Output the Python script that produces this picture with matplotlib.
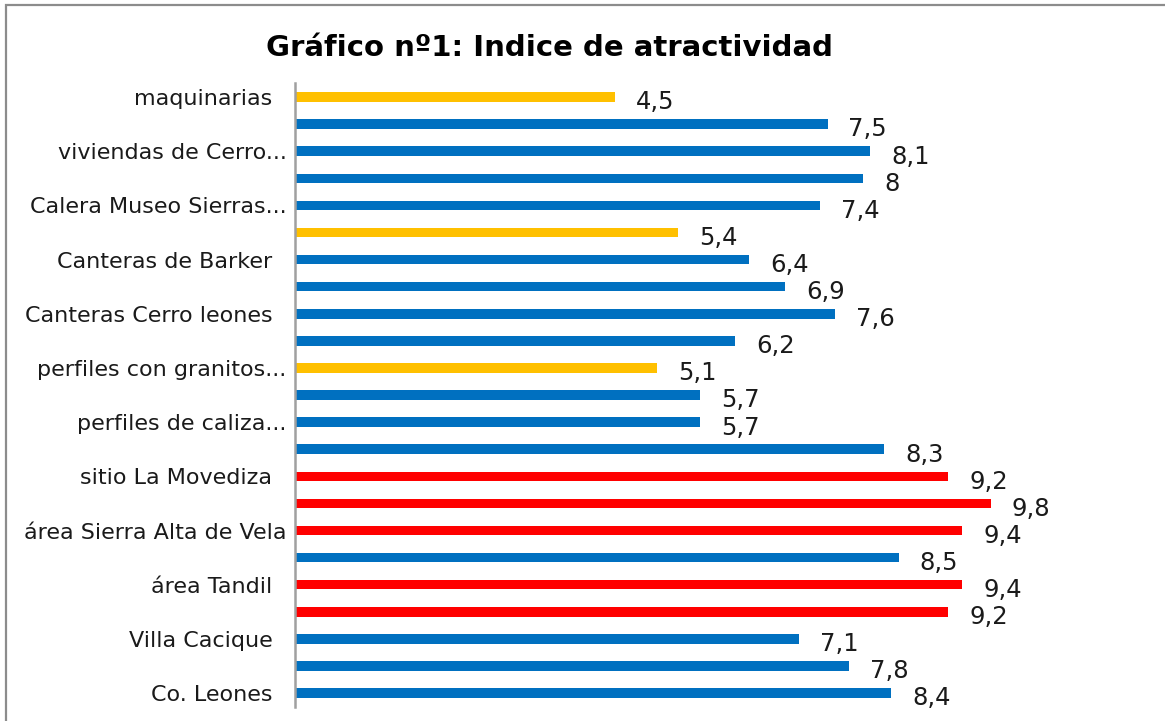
import matplotlib
matplotlib.use("Agg")
import matplotlib.pyplot as plt
from matplotlib.patches import Rectangle

# Data, top to bottom as shown in the chart
labels = ["maquinarias  ", "", "viviendas de Cerro...", "", "Calera Museo Sierras...", "",
          "Canteras de Barker  ", "", "Canteras Cerro leones  ", "", "perfiles con granitos...", "",
          "perfiles de caliza...", "", "sitio La Movediza  ", "", "área Sierra Alta de Vela", "",
          "área Tandil  ", "", "Villa Cacique  ", "", "Co. Leones  "]
values = [4.5, 7.5, 8.1, 8, 7.4, 5.4, 6.4, 6.9, 7.6, 6.2, 5.1, 5.7, 5.7, 8.3,
          9.2, 9.8, 9.4, 8.5, 9.4, 9.2, 7.1, 7.8, 8.4]
groups = ["y", "b", "b", "b", "b", "y", "b", "b", "b", "b", "y", "b", "b", "b",
          "r", "r", "r", "b", "r", "r", "b", "b", "b"]
value_text = ["4,5", "7,5", "8,1", "8", "7,4", "5,4", "6,4", "6,9", "7,6", "6,2", "5,1", "5,7",
              "5,7", "8,3", "9,2", "9,8", "9,4", "8,5", "9,4", "9,2", "7,1", "7,8", "8,4"]
title = "Gráfico nº1: Indice de atractividad"

palette = {"b": "#0070C0", "y": "#FFC000", "r": "#FF0000"}

W, H = 1165, 721
fig = plt.figure(figsize=(W / 100, H / 100), dpi=100)
plt.rcParams['font.family'] = ['DejaVu Sans']

# outer chart border (top and left visible)
fig.patches.append(Rectangle((6 / W, -0.05), 1.2, 1 - 5 / H + 0.05, transform=fig.transFigure,
                             fill=False, edgecolor="#8c8c8c", linewidth=1.6, zorder=0))

ax_left, ax_right = 295, 1147
ax_top, ax_bot = 83.5, 706.6
ax = fig.add_axes([ax_left / W, 1 - ax_bot / H, (ax_right - ax_left) / W, (ax_bot - ax_top) / H])

n = len(values)
ypos = list(range(n))
ax.barh(ypos, values, height=0.35, color=[palette[g] for g in groups], zorder=2)
ax.set_ylim(n - 0.5, -0.5)
ax.set_xlim(0, 12)

ax.set_yticks(ypos)
ax.set_yticklabels(labels, fontsize=16, color="#1a1a1a")
ax.tick_params(axis="y", length=0, pad=6)
ax.set_xticks([])

for s in ["top", "right", "bottom"]:
    ax.spines[s].set_visible(False)
ax.spines["left"].set_color("#a0a0a0")
ax.spines["left"].set_linewidth(1.8)

for y, v, t in zip(ypos, values, value_text):
    ax.annotate(t, xy=(v, y), xytext=(15.1, -8.9), textcoords="offset points",
                ha="left", va="baseline", fontsize=17.5, color="#1a1a1a")

fig.text(549 / W, 1 - 48 / H, title, ha="center", va="center",
         fontsize=21, fontweight="bold", color="#000000")

fig.savefig("out.png", dpi=100)
